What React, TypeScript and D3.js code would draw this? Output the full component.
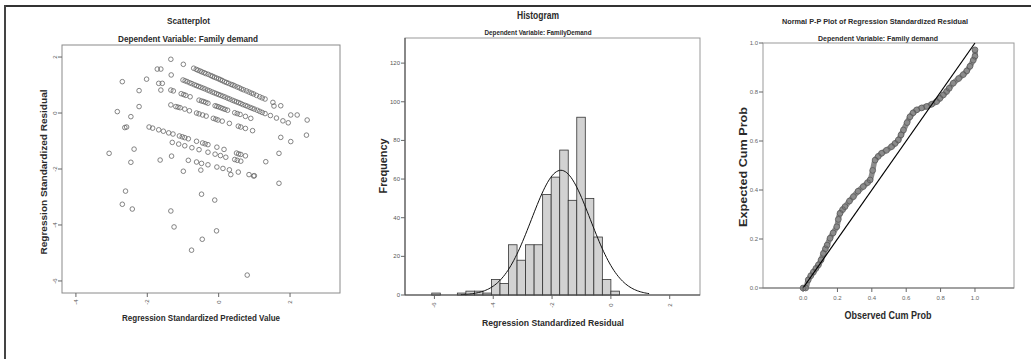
import React from 'react';
import * as d3 from 'd3';

const FONT = "'Liberation Sans', Arial, sans-serif";

// ---------- Scatterplot data (predicted value, residual) ----------
const scatterBandA: [number, number][] = [
  [-0.7, 1.6], [-0.63, 1.56], [-0.58, 1.53], [-0.52, 1.5], [-0.47, 1.47], [-0.41, 1.44], [-0.36, 1.41],
  [-0.29, 1.38], [-0.22, 1.34], [-0.17, 1.31], [-0.12, 1.28], [-0.06, 1.25], [0.0, 1.22], [0.05, 1.19],
  [0.1, 1.16], [0.16, 1.12], [0.22, 1.09], [0.28, 1.06], [0.35, 1.02], [0.4, 1.0], [0.45, 0.97],
  [0.52, 0.93], [0.58, 0.9], [0.64, 0.86], [0.7, 0.83], [0.78, 0.79], [0.85, 0.75], [0.92, 0.71],
  [0.98, 0.68], [1.06, 0.63], [1.15, 0.58], [1.22, 0.54], [1.3, 0.5], [1.52, 0.38], [1.74, 0.26],
];
const scatterBandB: [number, number][] = [
  [-1.0, 1.18], [-0.94, 1.15], [-0.88, 1.12], [-0.81, 1.08], [-0.75, 1.05], [-0.68, 1.01], [-0.62, 0.98],
  [-0.56, 0.95], [-0.5, 0.92], [-0.44, 0.89], [-0.38, 0.86], [-0.31, 0.82], [-0.25, 0.79], [-0.18, 0.75],
  [-0.12, 0.72], [-0.06, 0.69], [0.0, 0.66], [0.06, 0.63], [0.12, 0.6], [0.18, 0.57], [0.25, 0.53],
  [0.31, 0.5], [0.38, 0.46], [0.44, 0.43], [0.5, 0.4], [0.56, 0.37], [0.62, 0.34], [0.68, 0.3],
  [0.75, 0.27], [0.81, 0.24], [0.88, 0.2], [0.94, 0.17], [1.0, 0.14], [1.08, 0.1], [1.15, 0.06],
  [1.22, 0.02], [1.3, -0.02], [1.45, -0.09], [1.62, -0.18], [1.8, -0.28], [1.95, -0.35],
];
const scatterBandC: [number, number][] = [
  [-1.34, 0.82], [-1.27, 0.79], [-1.05, 0.69], [-0.98, 0.66], [-0.92, 0.63], [-0.8, 0.58], [-0.55, 0.46],
  [-0.48, 0.43], [-0.42, 0.41], [-0.36, 0.38], [-0.3, 0.35], [-0.1, 0.26], [-0.05, 0.24], [0.0, 0.22],
  [0.06, 0.19], [0.12, 0.16], [0.18, 0.13], [0.25, 0.1], [0.45, 0.01], [0.52, -0.02], [0.6, -0.05],
  [0.75, -0.12], [0.9, -0.19],
];
const scatterBandD: [number, number][] = [
  [-1.34, 0.29], [-1.2, 0.23], [-1.14, 0.21], [-1.08, 0.19], [-0.95, 0.14], [-0.82, 0.08], [-0.62, 0.0],
  [-0.55, -0.03], [-0.45, -0.07], [-0.35, -0.11], [-0.15, -0.19], [-0.08, -0.22], [-0.02, -0.25],
  [0.1, -0.29], [0.3, -0.37], [0.55, -0.47], [0.62, -0.5], [0.75, -0.55], [0.95, -0.63],
];
const scatterBandE: [number, number][] = [
  [-1.95, -0.5], [-1.85, -0.54], [-1.68, -0.6], [-1.55, -0.65], [-1.4, -0.71], [-1.28, -0.75], [-1.1, -0.82],
  [-1.02, -0.85], [-0.95, -0.88], [-0.85, -0.92], [-0.62, -1.01], [-0.45, -1.07], [-0.38, -1.1],
  [-0.3, -1.13], [-0.05, -1.22], [0.15, -1.3], [0.5, -1.43], [0.56, -1.46], [0.62, -1.48], [0.75, -1.53],
];
const scatterBandF: [number, number][] = [
  [-1.3, -1.05], [-1.12, -1.11], [-0.95, -1.17], [-0.75, -1.24], [-0.55, -1.31], [-0.3, -1.4], [-0.1, -1.47],
  [0.05, -1.52], [0.2, -1.58], [0.45, -1.66], [0.52, -1.69], [0.62, -1.72],
];
const scatterBandG: [number, number][] = [
  [-1.32, -1.54], [-0.85, -1.69], [-0.62, -1.75], [-0.48, -1.8], [-0.3, -1.85], [-0.05, -1.93], [0.12, -1.98],
  [0.3, -2.03], [0.55, -2.11], [0.85, -2.2], [1.0, -2.24],
];
const scatterSparse: [number, number][] = [
  [-1.34, 1.92], [-0.99, 1.74], [-1.72, 1.57], [-1.62, 1.57], [-1.33, 1.36], [-2.02, 1.21], [-2.7, 1.12],
  [-1.68, 1.06], [-1.58, 1.06], [-2.23, 0.8], [-1.62, 0.82], [-2.84, 0.05], [-2.46, -0.13], [-2.23, 0.23],
  [-2.63, -0.52], [-2.58, -0.5], [-2.37, -1.29], [-3.07, -1.44], [-2.46, -1.76], [-1.64, -1.68],
  [-0.99, -2.08], [-0.5, -2.04], [0.34, -2.2], [0.98, -2.25], [1.32, -1.74], [1.69, -1.44],
  [-2.61, -2.79], [-2.7, -3.26], [-2.42, -3.43], [-1.34, -3.5], [-1.25, -4.07], [-0.48, -2.9], [-0.11, -3.11],
  [-0.46, -4.51], [-0.06, -4.21], [-0.76, -4.9], [0.8, -5.79], [1.69, -2.51],
  [2.02, -0.07], [2.2, -0.07], [2.48, -0.25], [2.46, -0.79], [1.74, -0.87], [2.02, -1.02], [1.55, 0.25],
];
const scatterXTicks = [-4, -2, 0, 2];
const scatterYTicks = [2, 0, -2, -4, -6];

// ---------- Histogram data ----------
const histBinStart = [-6.09, -5.22, -4.93, -4.64, -4.35, -4.06, -3.77, -3.48, -3.19, -2.9, -2.61, -2.32, -2.03, -1.74, -1.45, -1.16, -0.87, -0.58, -0.29, 0.0];
const histCounts = [1, 1, 2, 2, 1, 8, 6, 26, 18, 26, 26, 52, 61, 75, 49, 92, 50, 30, 8, 2];
const histBinWidth = 0.29;
const normalMean = -1.7;
const normalSd = 1.0;
const normalN = 558;
const histXTicks = [-6, -4, -2, 0, 2];
const histYTicks = [0, 20, 40, 60, 80, 100, 120];

// ---------- P-P plot data (observed, expected) ----------
const ppPoints: [number, number][] = [
  [0.0, 0.0], [0.015, 0.0], [0.03, 0.033], [0.045, 0.05], [0.06, 0.065], [0.075, 0.08], [0.089, 0.094],
  [0.105, 0.115], [0.118, 0.141], [0.13, 0.16], [0.14, 0.175], [0.157, 0.203], [0.175, 0.225], [0.196, 0.25],
  [0.205, 0.28], [0.215, 0.305], [0.23, 0.32], [0.244, 0.332], [0.27, 0.355], [0.293, 0.373], [0.32, 0.395],
  [0.35, 0.414], [0.375, 0.43], [0.39, 0.441], [0.405, 0.48], [0.419, 0.522], [0.437, 0.537], [0.457, 0.55],
  [0.485, 0.562], [0.515, 0.577], [0.535, 0.59], [0.554, 0.604], [0.57, 0.625], [0.584, 0.645], [0.605, 0.675],
  [0.622, 0.699], [0.64, 0.715], [0.661, 0.727], [0.69, 0.735], [0.719, 0.741], [0.748, 0.75], [0.777, 0.761],
  [0.796, 0.774], [0.816, 0.788], [0.835, 0.802], [0.85, 0.815], [0.874, 0.836], [0.905, 0.855], [0.932, 0.871],
  [0.952, 0.886], [0.971, 0.905], [0.99, 0.93], [1.0, 0.946], [1.0, 0.972],
];
const ppTicks = [0, 0.2, 0.4, 0.6, 0.8, 1.0];

type LabelProps = {
  x: number; y: number; text: string; size: number; len?: number; rotate?: number;
  weight?: string; anchor?: string; fill?: string;
};
function Label({ x, y, text, size, len, rotate, weight, anchor, fill }: LabelProps) {
  return (
    <text
      transform={`translate(${x},${y})${rotate ? ` rotate(${rotate})` : ''}`}
      fontSize={size}
      fontWeight={weight || 'bold'}
      textAnchor={anchor || 'middle'}
      dominantBaseline="central"
      textLength={len}
      lengthAdjust={len ? 'spacingAndGlyphs' : undefined}
      fill={fill || '#2a2a2a'}
      fontFamily={FONT}
    >
      {text}
    </text>
  );
}

export default function App() {
  // Scatter scales
  const sx = d3.scaleLinear().domain([-4.39, 3.4]).range([62, 340]);
  const sy = d3.scaleLinear().domain([-6.43, 2.43]).range([293, 45]);
  const scatterAll = [
    ...scatterBandA, ...scatterBandB, ...scatterBandC, ...scatterBandD,
    ...scatterBandE, ...scatterBandF, ...scatterBandG, ...scatterSparse,
  ];

  // Histogram scales
  const hx = d3.scaleLinear().domain([-7.0, 3.03]).range([405, 700]);
  const hy = d3.scaleLinear().domain([0, 133]).range([295, 38]);
  const curveXs = d3.range(-5.1, 1.35, 0.05);
  const normalPdf = (v: number) =>
    (normalN * histBinWidth) / (normalSd * Math.sqrt(2 * Math.PI)) *
    Math.exp(-0.5 * ((v - normalMean) / normalSd) ** 2);
  const curvePath = d3.line<number>().x((v) => hx(v)).y((v) => hy(normalPdf(v)))(curveXs) || '';

  // P-P scales
  const px = d3.scaleLinear().domain([-0.233, 1.227]).range([763, 1014]);
  const py = d3.scaleLinear().domain([0, 1]).range([288, 43]);
  const ppPath = d3.line<[number, number]>().x((d) => px(d[0])).y((d) => py(d[1])).curve(d3.curveCatmullRom)(ppPoints) || '';

  const tickColor = '#666';

  return (
    <svg width={1036} height={359} style={{ position: 'absolute', left: 0, top: 0, background: '#fff' }}>
      <rect x={0} y={0} width={1036} height={359} fill="#fff" />
      {/* outer frame */}
      <line x1={5} y1={6} x2={1031} y2={6} stroke="#333" strokeWidth={2} />
      <line x1={5} y1={5} x2={5} y2={359} stroke="#444" strokeWidth={2} />

      {/* ================= Scatterplot ================= */}
      <Label x={188.5} y={21} text="Scatterplot" size={9} len={43} />
      <Label x={188} y={39} text="Dependent Variable: Family demand" size={9} len={140} />
      <rect x={62} y={45} width={278} height={248} fill="none" stroke="#8a8a8a" strokeWidth={1} />
      {scatterAll.map((d, i) => (
        <circle key={i} cx={sx(d[0])} cy={sy(d[1])} r={2.3} fill="none" stroke="#666" strokeWidth={0.8} />
      ))}
      {scatterXTicks.map((t) => (
        <g key={`sxt${t}`}>
          <line x1={sx(t)} x2={sx(t)} y1={293} y2={297} stroke={tickColor} />
          <Label x={sx(t)} y={302} text={String(t)} size={6} rotate={-90} weight="normal" fill="#555" />
        </g>
      ))}
      {scatterYTicks.map((t) => (
        <g key={`syt${t}`}>
          <line x1={58} x2={62} y1={sy(t)} y2={sy(t)} stroke={tickColor} />
          <Label x={55} y={sy(t)} text={String(t)} size={6} rotate={-90} weight="normal" fill="#555" />
        </g>
      ))}
      <Label x={44} y={172} text="Regression Standardized Residual" size={9} len={165} rotate={-90} />
      <Label x={201} y={318} text="Regression Standardized Predicted Value" size={9} len={158} />

      {/* ================= Histogram ================= */}
      <Label x={538} y={15} text="Histogram" size={11} len={42} />
      <Label x={538} y={32} text="Dependent Variable: FamilyDemand" size={6.5} len={107} />
      <rect x={405} y={38} width={295} height={257} fill="none" stroke="#999" strokeWidth={1} />
      {histBinStart.map((b, i) => (
        <rect
          key={`hb${i}`}
          x={hx(b)}
          y={hy(histCounts[i])}
          width={hx(b + histBinWidth) - hx(b)}
          height={hy(0) - hy(histCounts[i])}
          fill="#d2d2d2"
          stroke="#333"
          strokeWidth={0.8}
        />
      ))}
      <path d={curvePath} fill="none" stroke="#111" strokeWidth={1} />
      <line x1={405} x2={405} y1={38} y2={295} stroke="#444" strokeWidth={1} />
      <line x1={405} x2={700} y1={295} y2={295} stroke="#444" strokeWidth={1.2} />
      {histXTicks.map((t) => (
        <g key={`hxt${t}`}>
          <line x1={hx(t)} x2={hx(t)} y1={295} y2={299} stroke={tickColor} />
          <Label x={hx(t)} y={305} text={String(t)} size={6} rotate={-90} weight="normal" fill="#555" />
        </g>
      ))}
      {histYTicks.map((t) => (
        <g key={`hyt${t}`}>
          <line x1={401} x2={405} y1={hy(t)} y2={hy(t)} stroke={tickColor} />
          <Label x={400} y={hy(t)} text={String(t)} size={6} anchor="end" weight="normal" fill="#555" />
        </g>
      ))}
      <Label x={383} y={166} text="Frequency" size={10} len={55} rotate={-90} />
      <Label x={553} y={322} text="Regression Standardized Residual" size={9.5} len={142} />

      {/* ================= P-P plot ================= */}
      <Label x={875} y={21} text="Normal P-P Plot of Regression Standardized Residual" size={8} len={186} />
      <Label x={878} y={38} text="Dependent Variable: Family demand" size={8} len={120} />
      <rect x={763} y={43} width={251} height={245} fill="none" stroke="#9a9a9a" strokeWidth={1} />
      <path d={ppPath} fill="none" stroke="#8c8c8c" strokeWidth={5.5} strokeLinecap="round" />
      {ppPoints.map((d, i) => (
        <circle key={`pp${i}`} cx={px(d[0])} cy={py(d[1])} r={2.9} fill="none" stroke="#5e5e5e" strokeWidth={0.9} />
      ))}
      <line x1={px(0)} y1={py(0)} x2={px(1)} y2={py(1)} stroke="#000" strokeWidth={1.2} />
      <line x1={763} x2={1014} y1={288} y2={288} stroke="#777" strokeWidth={1.2} />
      {ppTicks.map((t) => (
        <g key={`pxt${t}`}>
          <line x1={px(t)} x2={px(t)} y1={288} y2={292} stroke={tickColor} />
          <Label x={px(t)} y={298} text={t.toFixed(1)} size={6} weight="normal" fill="#666" />
        </g>
      ))}
      {ppTicks.map((t) => (
        <g key={`pyt${t}`}>
          <line x1={759} x2={763} y1={py(t)} y2={py(t)} stroke={tickColor} />
          <Label x={758} y={py(t)} text={t.toFixed(1)} size={6} anchor="end" weight="normal" fill="#666" />
        </g>
      ))}
      <Label x={743} y={167} text="Expected Cum Prob" size={11} len={120} rotate={-90} />
      <Label x={888} y={315} text="Observed Cum Prob" size={10} len={87} />
    </svg>
  );
}
